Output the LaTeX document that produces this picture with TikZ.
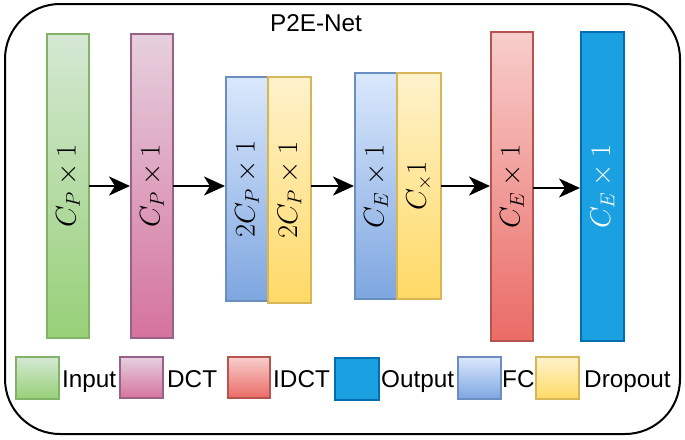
\RequirePackage{fix-cm}
\documentclass[tikz,border=0pt]{standalone}
\usepackage{fontspec}
\newfontfamily\arialf{Liberation Sans}
\usetikzlibrary{arrows.meta}
\definecolor{gA}{HTML}{D5E8D4}\definecolor{gB}{HTML}{97D077}\definecolor{gS}{HTML}{82B366}
\definecolor{pA}{HTML}{E6D0DE}\definecolor{pB}{HTML}{D5739D}\definecolor{pS}{HTML}{996185}
\definecolor{rA}{HTML}{F8CECC}\definecolor{rB}{HTML}{EA6B66}\definecolor{rS}{HTML}{B85450}
\definecolor{oF}{HTML}{1BA1E2}\definecolor{oS}{HTML}{006EAF}
\definecolor{bA}{HTML}{DAE8FC}\definecolor{bB}{HTML}{7EA6E0}\definecolor{bS}{HTML}{6C8EBF}
\definecolor{yA}{HTML}{FFF2CC}\definecolor{yB}{HTML}{FFD966}\definecolor{yS}{HTML}{D6B656}
\tikzset{
  blk/.style={rectangle, inner sep=0pt, outer sep=0pt, line width=1.2pt},
  greenbox/.style={blk, draw=gS, top color=gA, bottom color=gB},
  pinkbox/.style={blk, draw=pS, top color=pA, bottom color=pB},
  redbox/.style={blk, draw=rS, top color=rA, bottom color=rB},
  outbox/.style={blk, draw=oS, fill=oF},
  bluebox/.style={blk, draw=bS, top color=bA, bottom color=bB},
  yellowbox/.style={blk, draw=yS, top color=yA, bottom color=yB},
  lbl/.style={rotate=90, inner sep=0pt, font=\fontsize{28.5}{32}\selectfont},
  legtxt/.style={anchor=base west, inner sep=0pt, font=\arialf\fontsize{24.3}{28}\selectfont},
  arr/.style={line width=2pt, -{Stealth[length=21pt 0 0, width=19pt 0 0, inset=6pt]}, shorten >=1pt},
}
\begin{document}
\begin{tikzpicture}[x=1pt, y=-1pt]
\useasboundingbox (0,0) rectangle (685,439);
% outer frame
\node[draw=black, line width=2pt, rounded corners=55pt, minimum width=675, minimum height=430, inner sep=0pt] (frame) at (342.5,219) {};
\node[legtxt, anchor=base] (title) at (316,31) {P2E-Net};
% blocks
\node[greenbox, minimum width=42, minimum height=304] (in) at (68,186) {};
\node[pinkbox, minimum width=42, minimum height=304] (dct) at (152,186) {};
\node[bluebox, minimum width=42, minimum height=224] (fc1) at (247,189) {};
\node[yellowbox, minimum width=43, minimum height=226] (dr1) at (289.5,190) {};
\node[bluebox, minimum width=42, minimum height=226] (fc2) at (376,186) {};
\node[yellowbox, minimum width=44, minimum height=226] (dr2) at (419,186) {};
\node[redbox, minimum width=42, minimum height=309] (idct) at (512,186.5) {};
\node[outbox, minimum width=43, minimum height=309] (out) at (602.5,186.5) {};
% labels
\node[lbl] (inl) at (in.center) {$C_P\times 1$};
\node[lbl] (dctl) at (dct.center) {$C_P\times 1$};
\node[lbl] (fc1l) at (fc1.center) {$2C_P\times 1$};
\node[lbl] (dr1l) at (dr1.center) {$2C_P\times 1$};
\node[lbl] (fc2l) at (fc2.center) {$C_E\times 1$};
\node[lbl] (dr2l) at (dr2.center) {$C_{\times}1$};
\node[lbl] (idctl) at (idct.center) {$C_E\times 1$};
\node[lbl, text=white] (outl) at (out.center) {$C_E\times 1$};
% arrows
\coordinate (ay) at (0,186);
\coordinate (ay2) at (0,188);
\draw[arr] (in.east |- ay) -- (dct.west |- ay);
\draw[arr] (dct.east |- ay) -- (fc1.west |- ay);
\draw[arr] (dr1.east |- ay) -- (fc2.west |- ay);
\draw[arr] (dr2.east |- ay) -- (idct.west |- ay);
\draw[arr] (idct.east |- ay2) -- (out.west |- ay2);
% legend
\node[greenbox, minimum width=43, minimum height=42] (lin) at (37.5,378) {};
\node[legtxt] (linT) at (62,387) {Input};
\node[pinkbox, minimum width=43, minimum height=41] (ldct) at (141.5,377.5) {};
\node[legtxt] (ldctT) at (167,387) {DCT};
\node[redbox, minimum width=42, minimum height=41] (lidct) at (249,377.5) {};
\node[legtxt] (lidctT) at (273,387) {IDCT};
\node[outbox, minimum width=44, minimum height=42] (lout) at (357,379) {};
\node[legtxt] (loutT) at (381,387) {Output};
\node[bluebox, minimum width=43, minimum height=42] (lfc) at (479.5,378) {};
\node[legtxt] (lfcT) at (502,387) {FC};
\node[yellowbox, minimum width=43, minimum height=42] (ldr) at (557.5,378) {};
\node[legtxt] (ldrT) at (584,387) {Dropout};
\end{tikzpicture}
\end{document}
